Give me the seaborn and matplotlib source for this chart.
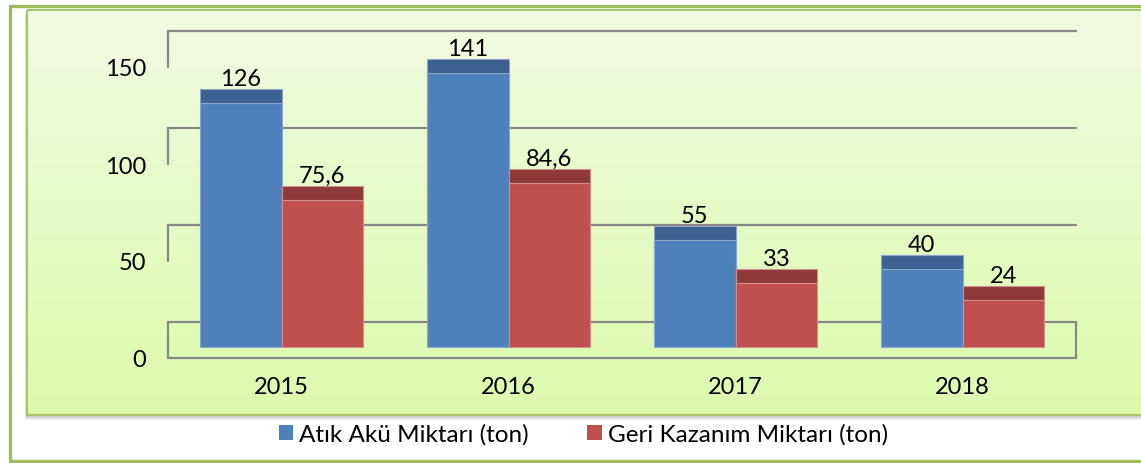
import numpy as np
import pandas as pd
import matplotlib
matplotlib.use('Agg')
import matplotlib.pyplot as plt
from matplotlib.patches import Rectangle, Patch
from matplotlib.colors import LinearSegmentedColormap
import seaborn as sns

# data
years = ['2015', '2016', '2017', '2018']
atik = [126, 141, 55, 40]
geri = [75.6, 84.6, 33, 24]
atik_labels = ['126', '141', '55', '40']
geri_labels = ['75,6', '84,6', '33', '24']
series = ['Atık Akü Miktarı (ton)', 'Geri Kazanım Miktarı (ton)']
yticks = [0, 50, 100, 150]

colors = ['#4F81BD', '#C0504D']
top_colors = ['#3D6190', '#8F3A38']
edge_colors = ['#8AA6CC', '#D08D8B']
grid_col = '#878787'

df = pd.DataFrame({
    'year': years * 2,
    'value': atik + geri,
    'series': [series[0]] * len(years) + [series[1]] * len(years),
})

sns.set_theme(style='white')
plt.rcParams['font.family'] = ['Lato', 'DejaVu Sans']
FS = 17

W, H = 1141, 464
fig = plt.figure(figsize=(W / 100, H / 100), dpi=100)
fig.patch.set_facecolor('white')

# --- background frame (pixel coordinates) ---
bg = fig.add_axes([0, 0, 1, 1], zorder=-1)
bg.add_patch(Rectangle((9.5, 6.5), W, 455.5, facecolor='white', edgecolor='#9BBB59', lw=2.4, zorder=0))
for k in range(1, 6):  # soft shadow under the plot box
    bg.add_patch(Rectangle((27 - k * 0.4, 10 + k), W, 406, facecolor='#000000', alpha=0.05, lw=0, zorder=1))
grad = np.linspace(0, 1, 256).reshape(-1, 1)
cmap = LinearSegmentedColormap.from_list('g', ['#F1FBE1', '#DCFAAD'])
bg.imshow(grad, cmap=cmap, aspect='auto', extent=(27, W, 416, 10), origin='upper', zorder=2)
bg.add_patch(Rectangle((27, 10.5), W, 405.5, fill=False, edgecolor='#A9C46E', lw=1.6, zorder=3))
bg.set_xlim(0, W)
bg.set_ylim(H, 0)
bg.axis('off')

# --- main axes ---
px = 97 / 50          # pixels per unit
front = 11 / px       # front floor below bar base
back = 25 / px        # back wall above bar base
top_face = 14 / px    # visible top of the 3d bars

ax = fig.add_axes([168 / W, (H - 359) / H, (1076 - 168) / W, (359 - 20) / H])
ax.set_facecolor('none')

sns.barplot(data=df, x='year', y='value', hue='series', palette=colors,
            width=0.72, saturation=1, ax=ax, legend=False, zorder=3)

for i, cont in enumerate(ax.containers):
    labs = atik_labels if i == 0 else geri_labels
    for bar, lab in zip(cont, labs):
        bar.set_edgecolor(edge_colors[i])
        bar.set_linewidth(0.8)
        x, w, h = bar.get_x(), bar.get_width(), bar.get_height()
        ax.add_patch(Rectangle((x, h), w, top_face, facecolor=top_colors[i],
                               edgecolor=edge_colors[i], lw=0.8, zorder=3, clip_on=False))
        ax.text(x + w / 2, h + top_face, lab, ha='center', va='bottom',
                fontsize=FS, color='black', zorder=4, clip_on=False)

x0, x1 = -0.5, len(years) - 0.5
ax.set_xlim(x0, x1)
ax.set_ylim(-front, (348 - 20) / px)

# 3d style gridlines: back wall lines + left wall edges + floor
for v in yticks:
    ax.plot([x0, x1], [v + back] * 2, color=grid_col, lw=1.6, zorder=1, clip_on=False)
    ax.plot([x0, x0], [v + back, v - front], color=grid_col, lw=1.6, zorder=1, clip_on=False)
ax.plot([x1, x1], [back, -front], color=grid_col, lw=1.6, zorder=1, clip_on=False)
ax.plot([x0, x1], [-front, -front], color=grid_col, lw=1.6, zorder=2, clip_on=False)

ax.set_yticks([v - front for v in yticks], [str(v) for v in yticks])
ax.tick_params(axis='y', length=0, pad=16, labelsize=FS, labelcolor='black')
ax.tick_params(axis='x', length=0, pad=13, labelsize=FS, labelcolor='black')
ax.set_xlabel('')
ax.set_ylabel('')
for s in ax.spines.values():
    s.set_visible(False)

handles = [Patch(facecolor=c, edgecolor='none') for c in colors]
fig.legend(handles, series, loc='center', bbox_to_anchor=(583.5 / W, 1 - 435 / H),
           ncol=2, frameon=False, fontsize=17.5, handlelength=0.58, handleheight=0.58,
           handletextpad=0.25, columnspacing=2.4, labelcolor='black')

fig.savefig('out.png', dpi=100)
